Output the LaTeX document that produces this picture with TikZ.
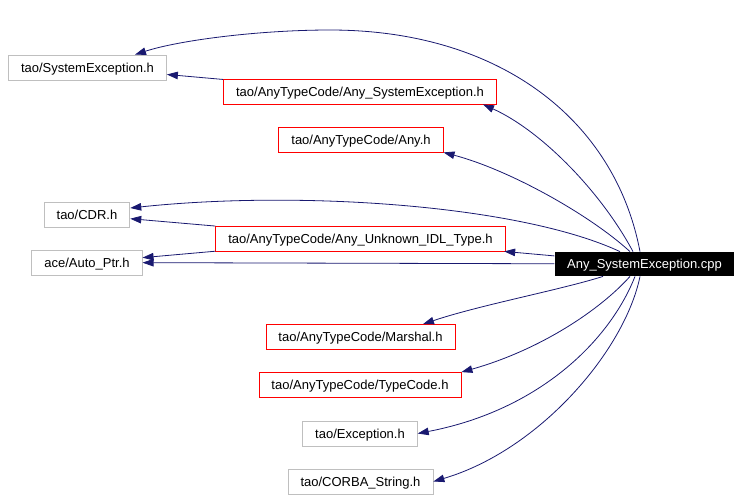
\documentclass[tikz,border=0pt]{standalone}
\usepackage{fontspec}
\setmainfont{Liberation Sans}
\usetikzlibrary{calc,arrows.meta}
\definecolor{edgeblue}{RGB}{25,25,112}
\definecolor{boxgray}{RGB}{191,191,191}
\begin{document}
\begin{tikzpicture}[x=1pt,y=-1pt,
        every node/.style={font=\fontsize{13}{15}\selectfont,inner xsep=12.5pt,inner ysep=0pt,text height=9.3pt,text depth=0pt,minimum height=25pt,line width=0.8pt},
        filebox/.style={draw=boxgray},
        docbox/.style={draw=red},
        mainbox/.style={fill=black,text=white,minimum height=24pt},
        dep/.style={draw=edgeblue,line width=0.8pt,-{Triangle[length=11pt,width=7.5pt]}}]
        \useasboundingbox (0,0) rectangle (741,499);
        \node[filebox] (sysexc) at (87.5,67.5) {tao/SystemException.h};
        \node[docbox] (anysysexc) at (360,91.5) {tao/AnyTypeCode/Any\_SystemException.h};
        \node[docbox] (any) at (361,139.5) {tao/AnyTypeCode/Any.h};
        \node[filebox] (cdr) at (87,215) {tao/CDR.h};
        \node[docbox] (unknown) at (360.5,238.5) {tao/AnyTypeCode/Any\_Unknown\_IDL\_Type.h};
        \node[filebox] (autoptr) at (87,262.5) {ace/Auto\_Ptr.h};
        \node[mainbox] (cpp) at (644.5,264) {Any\_SystemException.cpp};
        \node[docbox] (marshal) at (360.5,337) {tao/AnyTypeCode/Marshal.h};
        \node[docbox] (typecode) at (360,385) {tao/AnyTypeCode/TypeCode.h};
        \node[filebox] (exception) at (360,433.5) {tao/Exception.h};
        \node[filebox] (corba) at (360.5,481.5) {tao/CORBA\_String.h};
        \draw[dep] ($(cpp.north)+(-4.5,0)$) .. controls (615,120) and (500,30) .. (330,30)
                .. controls (260,30) and (180,40) .. ($(sysexc.north)+(47.5,0)$);
        \draw[dep] (anysysexc) -- (sysexc);
        \draw[dep] ($(cpp.north)+(-11.5,0)$) .. controls (600,190) and (540,130) .. ($(anysysexc.south)+(123,0)$);
        \draw[dep] ($(cpp.north)+(-14.5,0)$) .. controls (590,215) and (510,170) .. (any.south east);
        \draw[dep] ($(cpp.north)+(-24.5,0)$) .. controls (520,205) and (300,190) .. ($(cdr.east)+(0,-7)$);
        \draw[dep] (unknown) -- (cdr);
        \draw[dep] (unknown) -- (autoptr);
        \draw[dep] (cpp) -- (autoptr);
        \draw[dep] (cpp) -- (unknown);
        \draw[dep] ($(cpp.south)+(-41.5,0)$) .. controls (560,290) and (480,305) .. ($(marshal.north)+(62.5,0)$);
        \draw[dep] ($(cpp.south)+(-14.5,0)$) .. controls (600,310) and (540,350) .. (typecode.north east);
        \draw[dep] ($(cpp.south)+(-9.5,0)$) .. controls (610,340) and (540,410) .. (exception.east);
        \draw[dep] ($(cpp.south)+(-4.5,0)$) .. controls (625,350) and (540,450) .. (corba.east);
\end{tikzpicture}
\end{document}
